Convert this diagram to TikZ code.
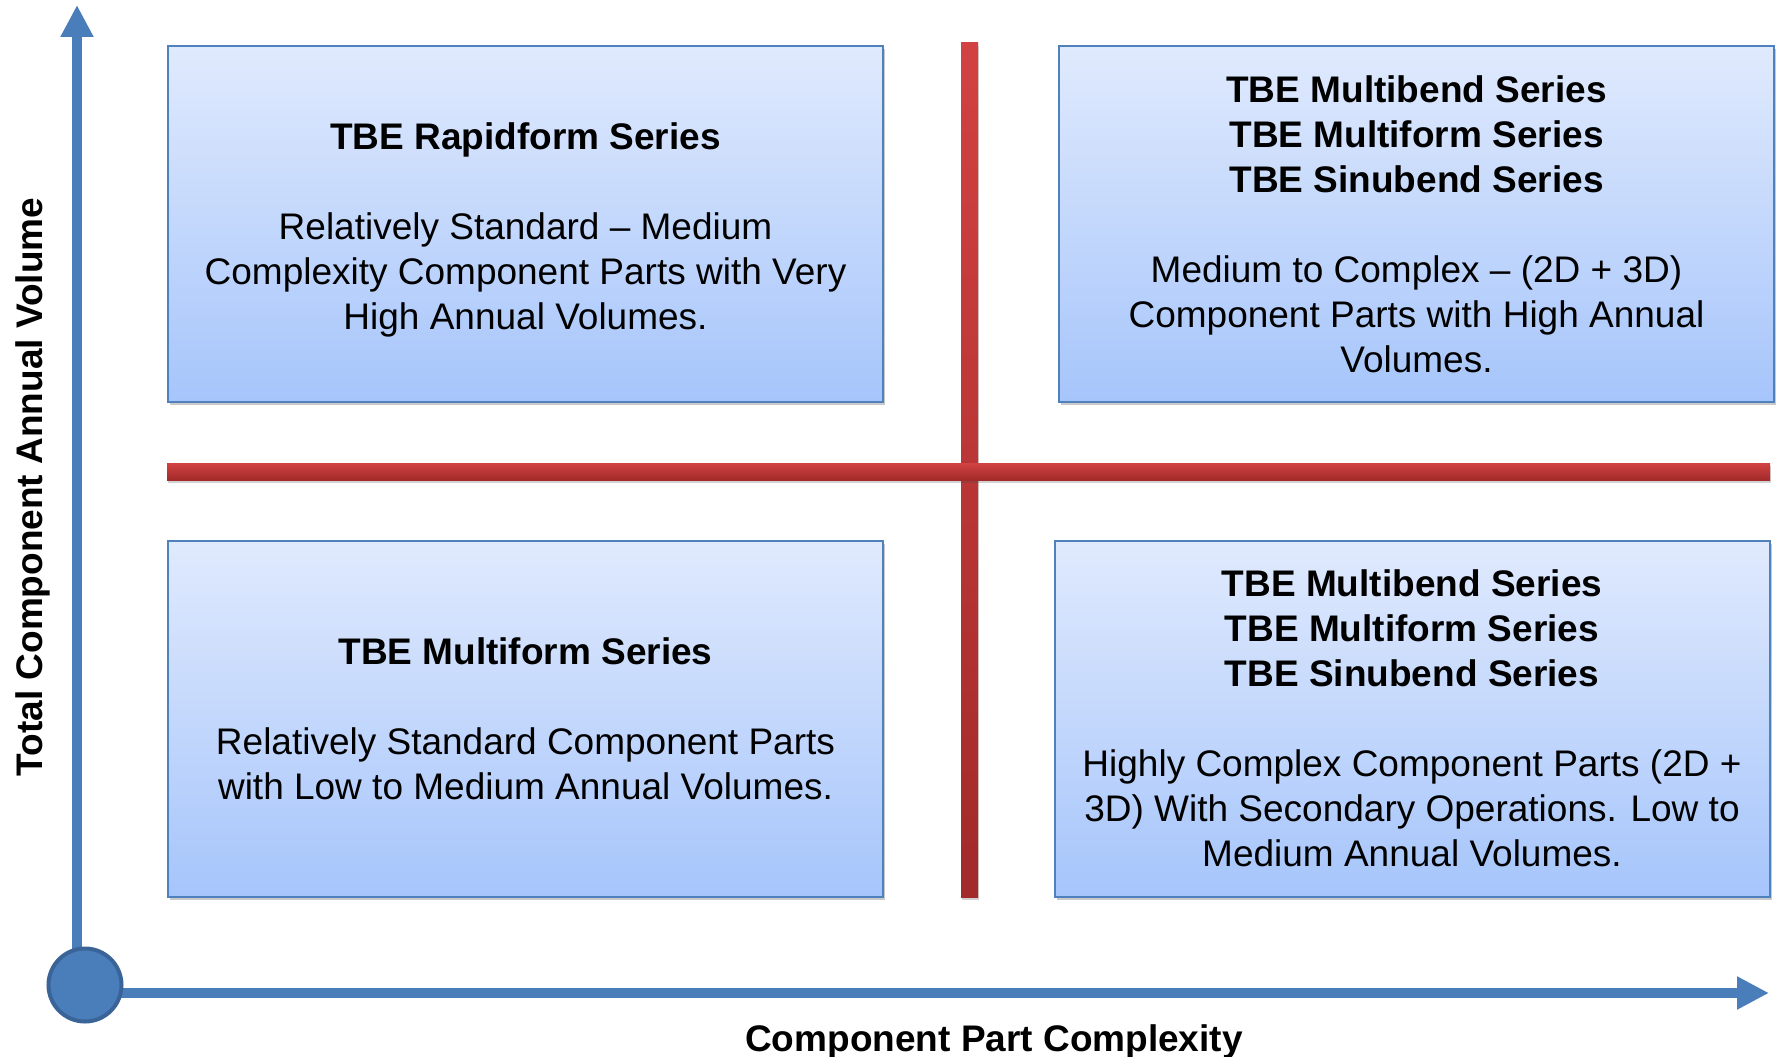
\documentclass[tikz,border=0pt]{standalone}
\usepackage{fontspec}
\setmainfont{Liberation Sans}
\usetikzlibrary{arrows.meta,shadows}

\definecolor{axisblue}{RGB}{74,126,187}
\definecolor{axisdark}{RGB}{58,100,152}
\definecolor{boxedge}{RGB}{79,129,189}
\definecolor{boxtop}{RGB}{224,234,253}
\definecolor{boxbottom}{RGB}{166,197,251}
\definecolor{bartop}{RGB}{210,66,66}
\definecolor{barbottom}{RGB}{162,42,42}

\begin{document}
\begin{tikzpicture}[x=1pt,y=-1pt,
    quad/.style={draw=boxedge, line width=2pt, top color=boxtop, bottom color=boxbottom,
      minimum width=715pt, minimum height=356pt, align=center,
      font=\fontsize{37}{45}\selectfont,
      drop shadow={shadow xshift=2pt, shadow yshift=-3pt, opacity=0.3, fill=black!70}},
    axis/.style={axisblue, line width=10pt, -{Triangle[width=31pt,length=32pt]}},
    axislabel/.style={font=\fontsize{37}{45}\selectfont\bfseries},
    redbar/.style={top color=bartop, bottom color=barbottom,
      drop shadow={shadow xshift=1pt, shadow yshift=-3pt, opacity=0.25, fill=black!70}}]
    \useasboundingbox (0,0) rectangle (1777,1057);

    % quadrant lines
    \shade[redbar] (961,43) rectangle (978,897);
    \shade[redbar] (167,463) rectangle (1770,480);

    % quadrants
    \node[quad] (rapid) at (525.5,224) {\mbox{}\\[-6pt]\textbf{TBE Rapidform Series}\\[45pt]
        Relatively Standard – Medium\\Complexity Component Parts with Very\\High Annual Volumes.};
    \node[quad] (high) at (1416.5,224) {\textbf{TBE Multibend Series}\\\textbf{TBE Multiform Series}\\\textbf{TBE Sinubend Series}\\[45pt]
        Medium to Complex – (2D + 3D)\\Component Parts with High Annual\\Volumes.};
    \node[quad] (multi) at (525.5,718.5) {\textbf{TBE Multiform Series}\\[45pt]
        Relatively Standard Component Parts\\with Low to Medium Annual Volumes.};
    \node[quad] (complex) at (1412,718.5) {\textbf{TBE Multibend Series}\\\textbf{TBE Multiform Series}\\\textbf{TBE Sinubend Series}\\[45pt]
        Highly Complex Component Parts (2D +\\3D) With Secondary Operations. Low to\\Medium Annual Volumes.};

    % axes
    \coordinate (o) at (85,985);
    \coordinate (ytip) at (77,5);
    \coordinate (xtip) at (1769,993);
    \draw[axis] (o -| ytip) -- (ytip);
    \draw[axis] (o |- xtip) -- (xtip);
    \node[circle, fill=axisblue, draw=axisdark, line width=4pt, minimum size=73pt] (origin) at (o) {};

    \node[axislabel] (xlabel) at (994,1042) {Component Part Complexity};
    \node[axislabel, rotate=90] (ylabel) at (33,487) {Total Component Annual Volume};
\end{tikzpicture}
\end{document}
